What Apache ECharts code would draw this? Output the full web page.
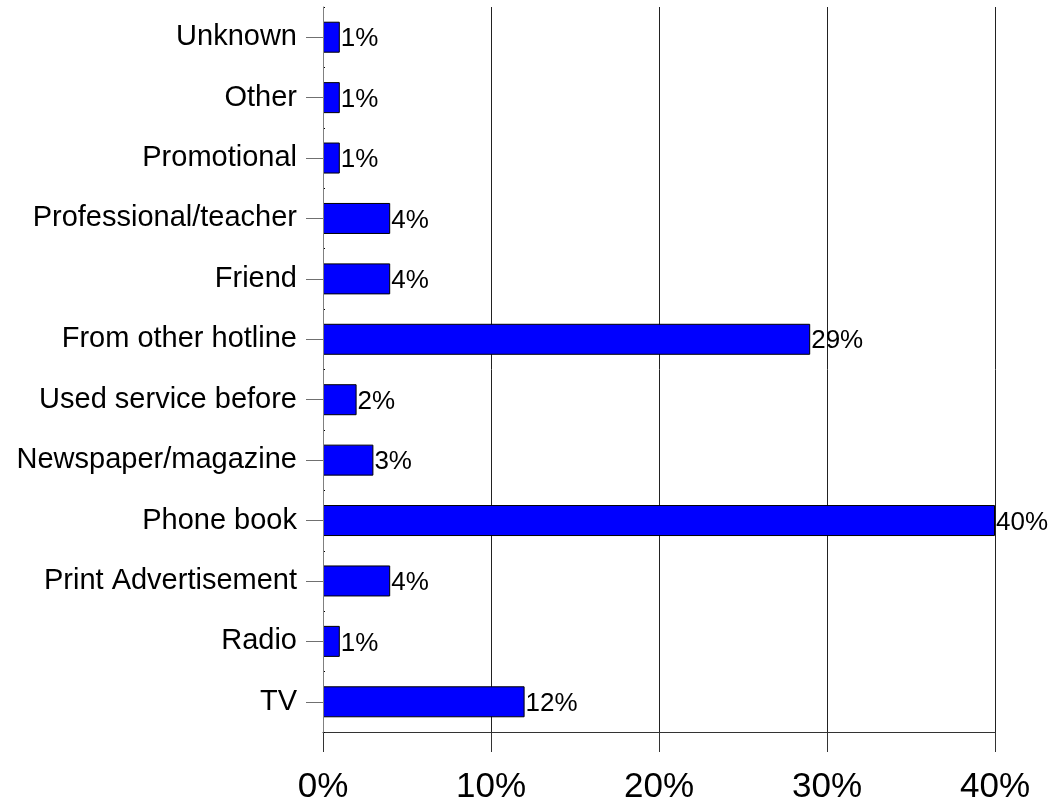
<!DOCTYPE html>
<html>
<head>
<meta charset="utf-8">
<script src="https://cdn.jsdelivr.net/npm/echarts@6/dist/echarts.min.js"></script>
<style>
  html, body { margin: 0; padding: 0; background: #fff; }
  #chart { width: 1052px; height: 802px; }
</style>
</head>
<body>
<div id="chart"></div>
<script>
// Referral sources, listed top to bottom
const categories = [
  'Unknown', 'Other', 'Promotional', 'Professional/teacher', 'Friend',
  'From other hotline', 'Used service before', 'Newspaper/magazine',
  'Phone book', 'Print Advertisement', 'Radio', 'TV'
];
// Share of callers, percent
const shares = [1, 1, 1, 4, 4, 29, 2, 3, 40, 4, 1, 12];
// Horizontal axis ticks, percent
const xTicks = [0, 10, 20, 30, 40];

const FONT = '"Liberation Sans", Arial, sans-serif';

const chart = echarts.init(document.getElementById('chart'), null, { renderer: 'canvas' });

chart.setOption({
  animation: false,
  backgroundColor: '#ffffff',
  grid: {
    left: 323, right: 57, top: 7, bottom: 70,
    containLabel: false,
    outerBoundsMode: 'none'
  },
  xAxis: {
    type: 'value',
    min: xTicks[0],
    max: xTicks[xTicks.length - 1],
    interval: xTicks[1] - xTicks[0],
    axisLine: { show: true, lineStyle: { color: '#333333', width: 1 } },
    axisTick: { show: true, length: 20, lineStyle: { color: '#333333', width: 1 } },
    splitLine: { show: true, lineStyle: { color: '#222222', width: 1 } },
    axisLabel: {
      formatter: '{value}%',
      fontFamily: FONT,
      fontSize: 35,
      color: '#000',
      margin: 38
    }
  },
  yAxis: [
    {
      type: 'category',
      data: categories,
      inverse: true,
      z: 5,
      axisLine: { show: true, lineStyle: { color: '#808080', width: 1 } },
      axisTick: { show: true, alignWithLabel: true, length: 17, lineStyle: { color: '#707070', width: 1 } },
      splitLine: { show: false },
      axisLabel: {
        fontFamily: FONT,
        fontSize: 29,
        color: '#000',
        margin: 26,
        padding: [4, 0, 0, 0]
      }
    },
    {
      // tiny marks at category boundaries, inside the plot
      type: 'category',
      data: categories,
      inverse: true,
      position: 'left',
      offset: 0,
      axisLine: { show: false },
      axisTick: { show: true, inside: true, length: 2, lineStyle: { color: '#000', width: 1 } },
      axisLabel: { show: false },
      splitLine: { show: false }
    }
  ],
  series: [
    {
      type: 'bar',
      yAxisIndex: 0,
      data: shares,
      barWidth: 31,
      itemStyle: { color: '#0000ff', borderColor: '#000000', borderWidth: 1 },
      label: {
        show: true,
        position: 'right',
        distance: 1,
        offset: [0, 2],
        formatter: '{c}%',
        fontFamily: FONT,
        fontSize: 26,
        color: '#000'
      }
    }
  ]
});
</script>
</body>
</html>
